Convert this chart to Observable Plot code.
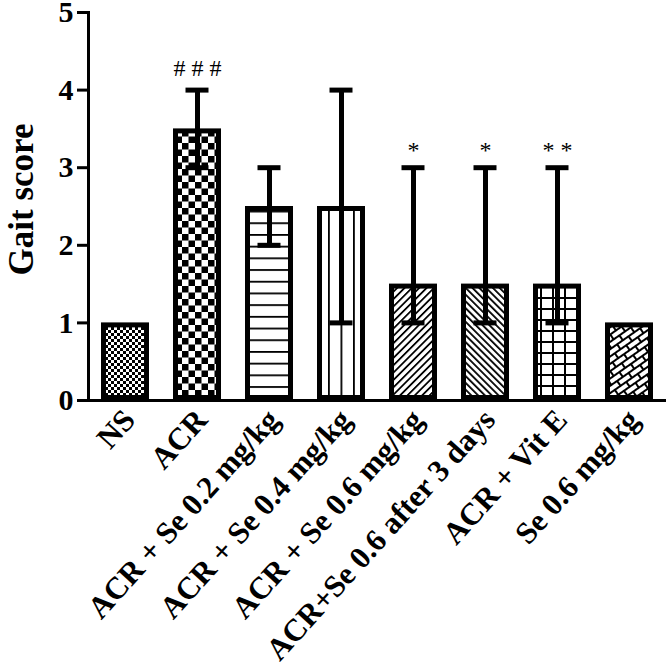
<!DOCTYPE html>
<html><head><meta charset="utf-8">
<script src="https://cdn.jsdelivr.net/npm/d3@7"></script>
<script src="https://cdn.jsdelivr.net/npm/@observablehq/plot@0.6"></script>
<style>body{margin:0;background:#fff} #chart svg{overflow:visible}</style>
</head><body><div id="chart"></div>
<script>
const groups = ["NS","ACR","ACR + Se 0.2 mg/kg","ACR + Se 0.4 mg/kg","ACR + Se 0.6 mg/kg","ACR+Se 0.6 after 3 days","ACR + Vit E","Se 0.6 mg/kg"];
const means = [1, 3.5, 2.5, 2.5, 1.5, 1.5, 1.5, 1];
const lows  = [null, 3, 2, 1, 1, 1, 1, null];
const highs = [null, 4, 3, 4, 3, 3, 3, null];
const signif = ["", "###", "", "", "*", "*", "**", ""];
const patterns = ["fineCheck","check","hLines","vLines","fwdDiag","backDiag","grid","bricks"];
const yTicks = [0, 1, 2, 3, 4, 5];
const yLabel = "Gait score";

const rows = groups.map((g, i) => ({group: g, mean: means[i], low: lows[i], high: highs[i], mark: signif[i], pattern: patterns[i]}));
const errRows = rows.filter(d => d.low != null);
const hashRows = rows.filter(d => d.mark.startsWith("#"));
const starRows = rows.filter(d => d.mark.startsWith("*"));
const spaced = d => d.mark.split("").join(" ");

const plot = Plot.plot({
  width: 666, height: 667,
  marginTop: 12, marginBottom: 267, marginLeft: 88, marginRight: 0,
  style: {fontFamily: "'Liberation Serif', 'Times New Roman', serif", background: "white", color: "black"},
  x: {domain: groups, paddingInner: 0.336, paddingOuter: 0.168, axis: null},
  y: {domain: [0, 5], axis: null},
  color: {type: "ordinal", domain: patterns, range: patterns.map(p => `url(#${p})`)},
  marks: [
    Plot.barY(rows, {x: "group", y: "mean", fill: "pattern", stroke: "black", strokeWidth: 5, inset: 2.5}),
    Plot.ruleX(errRows, {x: "group", y1: "low", y2: "high", stroke: "black", strokeWidth: 5}),
    Plot.tickY(errRows, {x: "group", y: "low", stroke: "black", strokeWidth: 5, inset: 12.5}),
    Plot.tickY(errRows, {x: "group", y: "high", stroke: "black", strokeWidth: 5, inset: 12.5}),
    Plot.text(hashRows, {x: "group", y: "high", text: spaced, dy: -22, fontSize: 24, fill: "black"}),
    Plot.text(starRows, {x: "group", y: "high", text: spaced, dy: -17, fontSize: 24, fill: "black"}),
    Plot.ruleY([0], {stroke: "black", strokeWidth: 3}),
    Plot.frame({anchor: "left", stroke: "black", strokeWidth: 3}),
    Plot.axisY({ticks: yTicks, tickSize: 11, tickPadding: 4, fontSize: 30, fontWeight: "bold", strokeWidth: 3, label: null, tickFormat: d => d, fill: "black", stroke: "black"}),
    Plot.axisX({tickSize: 0, tickRotate: -48, tickPadding: 14, dx: 4, fontSize: 31, fontWeight: "bold", label: null, fill: "black"}),
    Plot.text([yLabel], {frameAnchor: "left", textAnchor: "middle", rotate: -90, dx: -67, dy: -7, fontSize: 35, fontWeight: "bold", fill: "black"})
  ]
});

const svg = d3.select(plot);
const defs = svg.insert("defs", ":first-child");
function pat(id, w, h, transform) {
  const p = defs.append("pattern").attr("id", id).attr("patternUnits", "userSpaceOnUse").attr("width", w).attr("height", h);
  if (transform) p.attr("patternTransform", transform);
  return p;
}
let p = pat("fineCheck", 6, 6);
p.append("rect").attr("width", 6).attr("height", 6).attr("fill", "white");
p.append("rect").attr("width", 3).attr("height", 3).attr("fill", "black");
p.append("rect").attr("x", 3).attr("y", 3).attr("width", 3).attr("height", 3).attr("fill", "black");
p = pat("check", 13, 13);
p.append("rect").attr("width", 13).attr("height", 13).attr("fill", "white");
p.append("rect").attr("width", 6.5).attr("height", 6.5).attr("fill", "black");
p.append("rect").attr("x", 6.5).attr("y", 6.5).attr("width", 6.5).attr("height", 6.5).attr("fill", "black");
p = pat("hLines", 10, 11.7);
p.append("rect").attr("width", 10).attr("height", 11.7).attr("fill", "white");
p.append("rect").attr("y", 0).attr("width", 10).attr("height", 1.8).attr("fill", "black");
p = pat("vLines", 12.5, 10, "translate(3,0)");
p.append("rect").attr("width", 12.5).attr("height", 10).attr("fill", "white");
p.append("rect").attr("x", 0).attr("width", 1.8).attr("height", 10).attr("fill", "black");
p = pat("fwdDiag", 5.2, 10, "rotate(45)");
p.append("rect").attr("width", 5.2).attr("height", 10).attr("fill", "white");
p.append("rect").attr("width", 1.8).attr("height", 10).attr("fill", "black");
p = pat("backDiag", 4.8, 10, "rotate(-45)");
p.append("rect").attr("width", 4.8).attr("height", 10).attr("fill", "white");
p.append("rect").attr("width", 1.8).attr("height", 10).attr("fill", "black");
p = pat("grid", 12, 11);
p.append("rect").attr("width", 12).attr("height", 11).attr("fill", "white");
p.append("rect").attr("width", 2).attr("height", 11).attr("fill", "black");
p.append("rect").attr("width", 12).attr("height", 2).attr("fill", "black");
p = pat("bricks", 14, 12, "rotate(-35)");
p.append("rect").attr("width", 14).attr("height", 12).attr("fill", "black");
p.append("rect").attr("x", 1).attr("y", 1).attr("width", 12).attr("height", 4).attr("fill", "white");
p.append("rect").attr("x", -6).attr("y", 7).attr("width", 12).attr("height", 4).attr("fill", "white");
p.append("rect").attr("x", 8).attr("y", 7).attr("width", 12).attr("height", 4).attr("fill", "white");

document.getElementById("chart").append(plot);
</script>
</body></html>
